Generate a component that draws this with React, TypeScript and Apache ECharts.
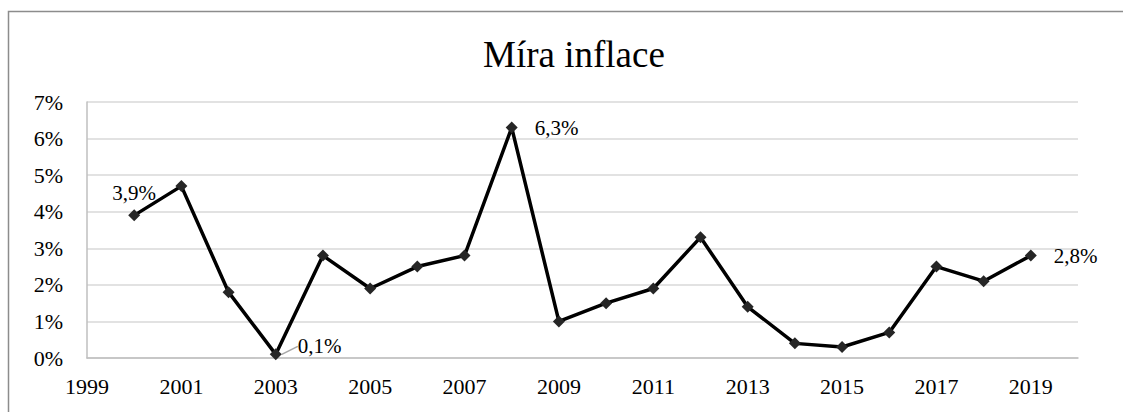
import React, { useEffect, useRef } from "react";
import * as echarts from "echarts";

const TITLE = "Míra inflace";
const years = [2000, 2001, 2002, 2003, 2004, 2005, 2006, 2007, 2008, 2009, 2010, 2011, 2012, 2013, 2014, 2015, 2016, 2017, 2018, 2019];
const inflation = [3.9, 4.7, 1.8, 0.1, 2.8, 1.9, 2.5, 2.8, 6.3, 1.0, 1.5, 1.9, 3.3, 1.4, 0.4, 0.3, 0.7, 2.5, 2.1, 2.8];
const labelledYears = [2000, 2003, 2008, 2019];
const xMin = 1999;
const xMax = 2020;
const yMin = 0;
const yMax = 7;

const FONT = "'Liberation Serif', 'Times New Roman', serif";

const fmt = (v: number) => `${v.toFixed(1).replace(".", ",")}%`;

function labelFor(year: number) {
  if (!labelledYears.includes(year)) return { show: false };
  if (year === 2000) return { show: true, position: "top", offset: [-8, 0], distance: 6 };
  if (year === 2003) return { show: true, position: "right", distance: 16 };
  return { show: true, position: "right", distance: 17 };
}

export default function App() {
  const ref = useRef<HTMLDivElement>(null);
  useEffect(() => {
    if (!ref.current) return;
    const chart = echarts.init(ref.current, null, { renderer: "svg" });
    const data = years.map((y, i) => ({
      value: [y, inflation[i]],
      label: labelFor(y),
      labelLine: y === 2003 ? { show: true, lineStyle: { color: "#a6a6a6", width: 1.5 } } : { show: false },
    }));
    chart.setOption({
      animation: false,
      backgroundColor: "#ffffff",
      title: {
        text: TITLE,
        left: 478,
        top: 31,
        textStyle: { fontFamily: FONT, fontSize: 37, fontWeight: "normal", color: "#000" },
      },
      graphic: [
        {
          type: "polyline",
          shape: { points: [[8.5, 412], [8.5, 11.5], [1123, 11.5]] },
          style: { fill: "none", stroke: "#8c8c8c", lineWidth: 1.5 },
          silent: true,
        },
      ],
      grid: { left: 87, top: 102, right: 45, bottom: 54 },
      xAxis: {
        type: "value",
        min: xMin,
        max: xMax,
        interval: 2,
        axisLine: { show: true, lineStyle: { color: "#bfbfbf", width: 1.5 } },
        axisTick: { show: false },
        splitLine: { show: false },
        axisLabel: {
          showMaxLabel: false,
          margin: 17,
          fontFamily: FONT,
          fontSize: 22,
          color: "#000",
          formatter: (v: number) => String(v),
        },
      },
      yAxis: {
        type: "value",
        min: yMin,
        max: yMax,
        interval: 1,
        axisLine: { show: true, lineStyle: { color: "#bfbfbf", width: 1.5 } },
        axisTick: { show: false },
        splitLine: { show: true, lineStyle: { color: "#d9d9d9", width: 1.5 } },
        axisLabel: {
          margin: 24,
          fontFamily: FONT,
          fontSize: 22,
          color: "#000",
          formatter: (v: number) => `${v}%`,
        },
      },
      series: [
        {
          type: "line",
          data,
          symbol: "diamond",
          symbolSize: 12,
          lineStyle: { color: "#000", width: 3.5 },
          itemStyle: { color: "#262626" },
          label: {
            fontFamily: FONT,
            fontSize: 21,
            color: "#000",
            formatter: (p: any) => fmt(p.value[1]),
          },
          labelLayout: (p: any) => (p.dataIndex === years.indexOf(2003) ? { dy: -8 } : {}),
          z: 3,
        },
      ],
    });
    return () => chart.dispose();
  }, []);
  return (
    <div
      ref={ref}
      style={{ position: "absolute", left: 0, top: 0, width: 1123, height: 412, overflow: "hidden" }}
    />
  );
}
